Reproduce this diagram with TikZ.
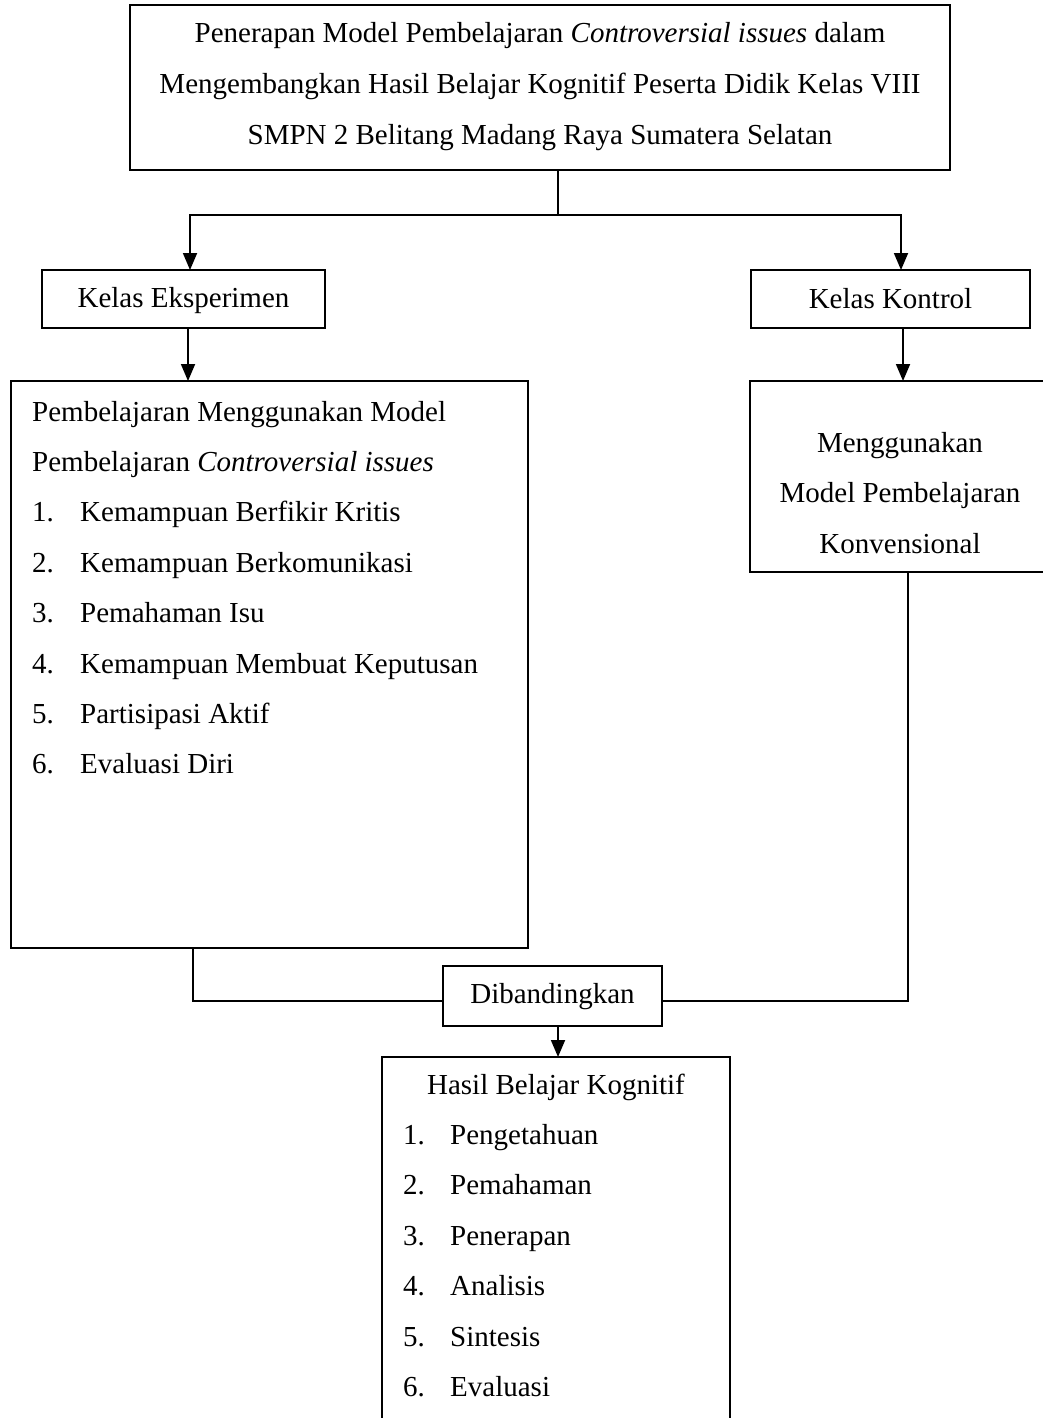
\documentclass[tikz,border=0pt]{standalone}
\usepackage{fontspec}
\setmainfont{Liberation Serif}
\usetikzlibrary{arrows.meta}
\begin{document}
\begin{tikzpicture}[x=1pt,y=-1pt,
  box/.style={draw, line width=2pt, inner sep=0pt, outer sep=0pt, anchor=north west},
  lbl/.style={font=\fontsize{29}{50.4}\selectfont, inner sep=0pt, anchor=base},
  lbll/.style={font=\fontsize{29}{50.4}\selectfont, inner sep=0pt, anchor=base west},
  conn/.style={line width=1.8pt},
  arr/.style={line width=1.8pt, -{Triangle[length=17pt,width=14pt]}}]
\clip (0,0) rectangle (1043,1418);
% boxes
\node[box, minimum width=820pt, minimum height=165pt] (top) at (130,5) {};
\node[box, minimum width=283pt, minimum height=58pt] (eks) at (42,270) {};
\node[box, minimum width=279pt, minimum height=58pt] (kon) at (751,270) {};
\node[box, minimum width=517pt, minimum height=567pt] (left) at (11,381) {};
\node[box, minimum width=302pt, minimum height=191pt] (right) at (750,381) {};
\node[box, minimum width=219pt, minimum height=60pt] (dib) at (443,966) {};
\node[box, minimum width=348pt, minimum height=400pt] (bot) at (382,1057) {};
% texts
\node[lbl] (t1) at (540,43) {Penerapan Model Pembelajaran \textit{Controversial issues} dalam};
\node[lbl] (t2) at (540,94) {Mengembangkan Hasil Belajar Kognitif Peserta Didik Kelas VIII};
\node[lbl] (t3) at (540,145) {SMPN 2 Belitang Madang Raya Sumatera Selatan};
\node[lbl] (teks) at (183.5,307) {Kelas Eksperimen};
\node[lbl] (tkon) at (890.5,308) {Kelas Kontrol};
\node[lbl] (r1) at (900,452) {Menggunakan};
\node[lbl] (r2) at (900,502) {Model Pembelajaran};
\node[lbl] (r3) at (900,553) {Konvensional};
\node[lbll] (l1) at (32,421) {Pembelajaran Menggunakan Model};
\node[lbll] (l2) at (32,471.4) {Pembelajaran \textit{Controversial issues}};
\foreach \n/\t [count=\i] in {1/Kemampuan Berfikir Kritis, 2/Kemampuan Berkomunikasi, 3/Pemahaman Isu, 4/Kemampuan Membuat Keputusan, 5/Partisipasi Aktif, 6/Evaluasi Diri}{
  \node[lbll] (ln\i) at (32,{471.4+50.4*\i}) {\n.};
  \node[lbll] (lt\i) at (80,{471.4+50.4*\i}) {\t};
}
\node[lbl] (tdib) at (552.5,1003) {Dibandingkan};
\node[lbl] (b0) at (556,1094) {Hasil Belajar Kognitif};
\foreach \n/\t [count=\i] in {1/Pengetahuan, 2/Pemahaman, 3/Penerapan, 4/Analisis, 5/Sintesis, 6/Evaluasi}{
  \node[lbll] (bn\i) at (403,{1094+50.4*\i}) {\n.};
  \node[lbll] (bt\i) at (450,{1094+50.4*\i}) {\t};
}
% connectors
\coordinate (split) at (558,215);
\draw[conn] (top.south -| split) -- (split);
\draw[arr] (split) -| ([xshift=148pt]eks.north west);
\draw[arr] (split) -| ([xshift=150pt]kon.north west);
\draw[arr] ([xshift=146pt]eks.south west) -- ([xshift=146pt]eks.south west |- left.north);
\draw[arr] ([xshift=152pt]kon.south west) -- ([xshift=152pt]kon.south west |- right.north);
\draw[conn] ([xshift=182pt]left.south west) |- ([yshift=-5pt]dib.west);
\draw[conn] ([xshift=158pt]right.south west) |- ([yshift=-5pt]dib.east);
\draw[arr] ([xshift=115pt]dib.south west) -- ([xshift=115pt]dib.south west |- bot.north);
\end{tikzpicture}
\end{document}
